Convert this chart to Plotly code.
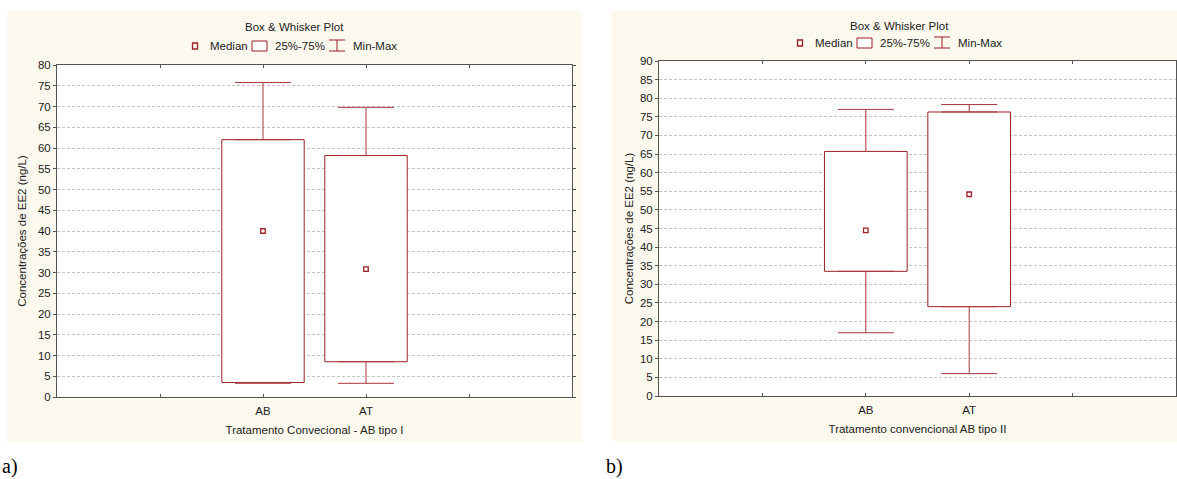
import plotly.graph_objects as go

# ---------------- data ----------------
categories = ["AB", "AT"]

# panel a) Tratamento Convecional - AB tipo I
a_min = [3.3, 3.3]
a_q1 = [3.5, 8.5]
a_median = [40.0, 30.8]
a_q3 = [62.0, 58.2]
a_max = [75.8, 69.8]

# panel b) Tratamento convencional AB tipo II
b_min = [17.0, 6.0]
b_q1 = [33.5, 24.0]
b_median = [44.5, 54.2]
b_q3 = [65.7, 76.3]
b_max = [77.0, 78.3]

y_ticks_a = list(range(0, 81, 5))
y_ticks_b = list(range(0, 91, 5))

# ---------------- styling ----------------
W, H = 1177, 479
FONT = "Liberation Sans"
DARK_RED = "#9A1F24"
WHISK = "#A8383C"
CREAM = "#FEF9EE"
AX = "#555555"
GRID = "#C4C4C4"
FS = 11.5


def fx(px):
    return px / W


def fy(py):
    return 1 - py / H


pad_cats = [" "] + categories + ["  "]

fig = go.Figure()


def add_panel(xa, ya, qmin, q1, med, q3, qmax):
    xr = "x" if xa == "xaxis" else "x2"
    yr = "y" if ya == "yaxis" else "y2"
    fig.add_trace(go.Bar(
        x=categories, y=[b - a for a, b in zip(q1, q3)], base=q1,
        width=0.8, marker=dict(color="white", line=dict(color=DARK_RED, width=1)),
        xaxis=xr, yaxis=yr, showlegend=False, hoverinfo="skip"))
    fig.add_trace(go.Scatter(
        x=categories, y=q3, mode="markers",
        marker=dict(size=1, opacity=0),
        error_y=dict(type="data", symmetric=False,
                     array=[m - q for m, q in zip(qmax, q3)],
                     arrayminus=[0] * len(q3),
                     width=28, thickness=1, color=WHISK),
        xaxis=xr, yaxis=yr, showlegend=False, hoverinfo="skip"))
    fig.add_trace(go.Scatter(
        x=categories, y=q1, mode="markers",
        marker=dict(size=1, opacity=0),
        error_y=dict(type="data", symmetric=False,
                     array=[0] * len(q1),
                     arrayminus=[q - m for m, q in zip(qmin, q1)],
                     width=28, thickness=1, color=WHISK),
        xaxis=xr, yaxis=yr, showlegend=False, hoverinfo="skip"))
    fig.add_trace(go.Scatter(
        x=categories, y=med, mode="markers",
        marker=dict(symbol="square-open", size=4.5, color=DARK_RED,
                    line=dict(width=1.3, color=DARK_RED)),
        xaxis=xr, yaxis=yr, showlegend=False, hoverinfo="skip"))


add_panel("xaxis", "yaxis", a_min, a_q1, a_median, a_q3, a_max)
add_panel("xaxis2", "yaxis2", b_min, b_q1, b_median, b_q3, b_max)

xcommon = dict(type="category", categoryorder="array", categoryarray=pad_cats,
               range=[-1, len(pad_cats)], showgrid=False, zeroline=False,
               showline=True, linecolor=AX, linewidth=1, mirror="ticks",
               ticks="inside", ticklen=3, tickcolor=AX, automargin=False,
               ticklabelstandoff=3,
               tickfont=dict(family=FONT, size=FS, color="#222"),
               title_font=dict(family=FONT, size=FS, color="#222"),
               title_standoff=10)
ycommon = dict(showgrid=True, gridcolor=GRID, griddash="3px,2px", gridwidth=1,
               zeroline=False, showline=True, linecolor=AX, linewidth=1,
               mirror="ticks", ticks="outside", ticklen=3, tickcolor=AX,
               automargin=False,
               tickfont=dict(family=FONT, size=FS, color="#222"),
               title_font=dict(family=FONT, size=FS, color="#222"),
               title_standoff=8)

fig.update_layout(
    width=W, height=H, margin=dict(l=0, r=0, t=0, b=0, pad=0, autoexpand=False),
    paper_bgcolor="white", plot_bgcolor="white", showlegend=False,
    font=dict(family=FONT, size=FS, color="#222"),
    xaxis=dict(xcommon, domain=[fx(57), fx(572)], anchor="y",
               title_text="Tratamento Convecional - AB tipo I"),
    yaxis=dict(ycommon, domain=[fy(397), fy(65)], anchor="x",
               range=[0, 80], tickvals=y_ticks_a,
               title_text="Concentrações de EE2 (ng/L)"),
    xaxis2=dict(xcommon, domain=[fx(659), fx(1176)], anchor="y2",
                title_text="Tratamento convencional AB tipo II"),
    yaxis2=dict(ycommon, domain=[fy(396), fy(61)], anchor="x2",
                range=[0, 90], tickvals=y_ticks_b,
                title_text="Concentrações de EE2 (ng/L)", title_standoff=3),
)

shapes = []
annotations = []
# cream panels
for (x0, x1) in [(7, 582), (612, 1177)]:
    shapes.append(dict(type="rect", xref="paper", yref="paper",
                       x0=fx(x0), x1=fx(x1), y0=fy(442), y1=fy(11),
                       fillcolor=CREAM, line=dict(width=0), layer="below"))
# white plot areas
for xr, yr in [("x domain", "y domain"), ("x2 domain", "y2 domain")]:
    shapes.append(dict(type="rect", xref=xr, yref=yr, x0=0, x1=1, y0=0, y1=1,
                       fillcolor="white", line=dict(width=0), layer="below"))

# titles + legend (decoration)
for title_cx, title_y, base_x, leg_y in [(294, 27, 195, 46), (899, 26, 800, 43)]:
    annotations.append(dict(text="Box & Whisker Plot", x=fx(title_cx), y=fy(title_y),
                            xref="paper", yref="paper", showarrow=False,
                            xanchor="center", yanchor="middle",
                            font=dict(family=FONT, size=FS, color="#222")))
    # median glyph
    shapes.append(dict(type="rect", xref="paper", yref="paper",
                       x0=fx(base_x - 2.5), x1=fx(base_x + 2.5),
                       y0=fy(leg_y + 3), y1=fy(leg_y - 3),
                       line=dict(color=DARK_RED, width=1.3), fillcolor="rgba(0,0,0,0)"))
    annotations.append(dict(text="Median", x=fx(base_x + 13), y=fy(leg_y),
                            xref="paper", yref="paper", showarrow=False,
                            xanchor="left", yanchor="middle",
                            font=dict(family=FONT, size=FS, color="#222")))
    # box glyph
    shapes.append(dict(type="rect", xref="paper", yref="paper",
                       x0=fx(base_x + 57), x1=fx(base_x + 72),
                       y0=fy(leg_y + 5), y1=fy(leg_y - 5),
                       line=dict(color=DARK_RED, width=1), fillcolor="white"))
    annotations.append(dict(text="25%-75%", x=fx(base_x + 78), y=fy(leg_y),
                            xref="paper", yref="paper", showarrow=False,
                            xanchor="left", yanchor="middle",
                            font=dict(family=FONT, size=FS, color="#222")))
    # whisker glyph
    wx0, wx1 = base_x + 134, base_x + 150
    wc = (wx0 + wx1) / 2
    for yy in (leg_y - 6, leg_y + 5):
        shapes.append(dict(type="line", xref="paper", yref="paper",
                           x0=fx(wx0), x1=fx(wx1), y0=fy(yy), y1=fy(yy),
                           line=dict(color=DARK_RED, width=1)))
    shapes.append(dict(type="line", xref="paper", yref="paper",
                       x0=fx(wc), x1=fx(wc), y0=fy(leg_y - 6), y1=fy(leg_y + 5),
                       line=dict(color=DARK_RED, width=1)))
    annotations.append(dict(text="Min-Max", x=fx(base_x + 156), y=fy(leg_y),
                            xref="paper", yref="paper", showarrow=False,
                            xanchor="left", yanchor="middle",
                            font=dict(family=FONT, size=FS, color="#222")))

# panel labels
for lbl, px in [("a)", 0), ("b)", 604)]:
    annotations.append(dict(text=lbl, x=fx(px), y=fy(466), xref="paper", yref="paper",
                            showarrow=False, xanchor="left", yanchor="middle",
                            font=dict(family="Liberation Serif", size=20, color="black")))

fig.update_layout(shapes=shapes, annotations=annotations)
fig.write_html("out.html")
